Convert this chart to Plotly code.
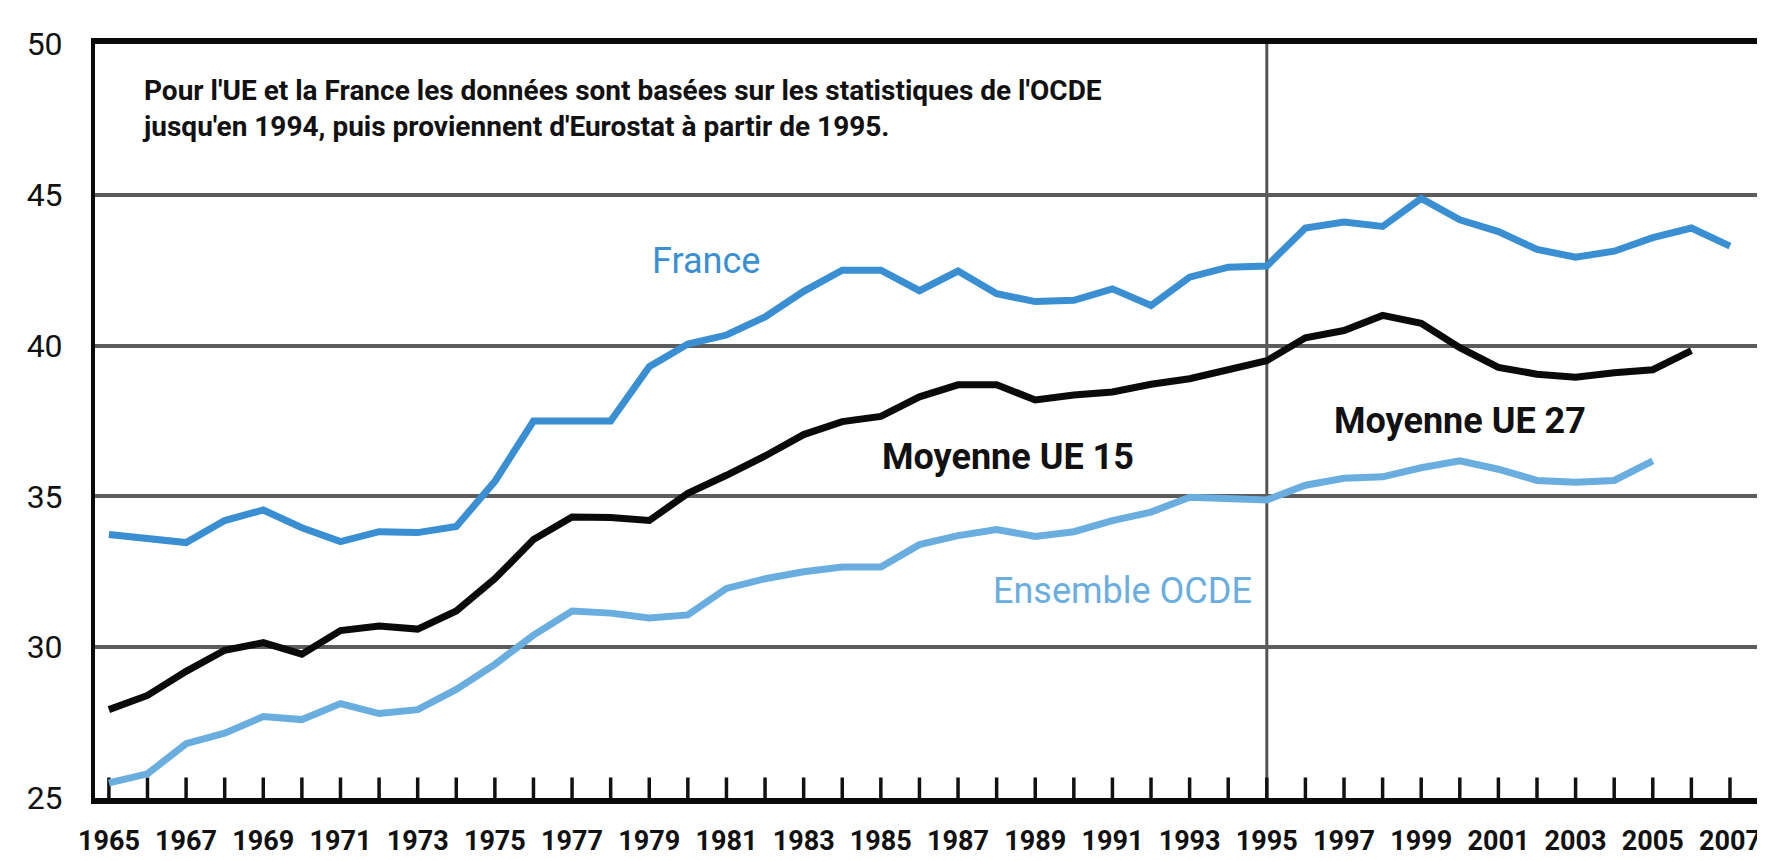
import plotly.graph_objects as go

# recettes fiscales en % du PIB
years = list(range(1965, 2008))

france = [33.74, 33.6, 33.47, 34.2, 34.55, 33.96, 33.5, 33.83, 33.8, 34.0,
          35.5, 37.5, 37.5, 37.5, 39.3, 40.05, 40.35, 40.95, 41.8, 42.5,
          42.5, 41.82, 42.47, 41.72, 41.46, 41.5, 41.88, 41.33, 42.27, 42.6,
          42.64, 43.9, 44.1, 43.95, 44.88, 44.17, 43.78, 43.19, 42.93, 43.13,
          43.58, 43.9, 43.3]

# UE 15 jusqu'en 1995, UE 27 ensuite (1965-2006)
moyenne_ue = [27.93, 28.4, 29.2, 29.9, 30.15, 29.77, 30.55, 30.7, 30.6, 31.2,
              32.27, 33.57, 34.32, 34.3, 34.2, 35.1, 35.7, 36.34, 37.05, 37.48,
              37.65, 38.3, 38.7, 38.7, 38.2, 38.36, 38.46, 38.72, 38.9, 39.18,
              39.5, 40.26, 40.5, 41.0, 40.74, 39.93, 39.28, 39.05, 38.95, 39.1,
              39.2, 39.83]

# ensemble OCDE (1965-2005)
ocde = [25.5, 25.8, 26.8, 27.15, 27.7, 27.6, 28.13, 27.8, 27.93, 28.6,
        29.43, 30.4, 31.2, 31.13, 30.97, 31.07, 31.95, 32.27, 32.5, 32.66,
        32.66, 33.4, 33.7, 33.9, 33.67, 33.83, 34.2, 34.48, 34.97, 34.94,
        34.88, 35.37, 35.6, 35.65, 35.95, 36.18, 35.9, 35.53, 35.47, 35.53,
        36.18]

source_break = 1995
y_ticks = [25, 30, 35, 40, 45, 50]
x_labels = [str(y) if y % 2 == 1 else "" for y in years]

note = ("Pour l'UE et la France les données sont basées sur les statistiques de l'OCDE<br>"
        "jusqu'en 1994, puis proviennent d'Eurostat à partir de 1995.")

FONT = "Roboto, Liberation Sans, sans-serif"
BLUE = "#3a8fd2"
LIGHT = "#6aaee0"
INK = "#111111"
X_RANGE = [1964.64, 2007.7]
Y_RANGE = [y_ticks[0], y_ticks[-1]]
TICK_LEN = 0.68  # en unités de l'axe y

fig = go.Figure()

# graduations annuelles tournées vers l'intérieur, posées sur l'axe du bas
tick_x, tick_y = [], []
for yr in years:
    tick_x += [yr, yr, None]
    tick_y += [Y_RANGE[0], Y_RANGE[0] + TICK_LEN, None]
fig.add_trace(go.Scatter(x=tick_x, y=tick_y, mode="lines", hoverinfo="skip",
                         line=dict(color=INK, width=3.5), name="ticks"))

fig.add_trace(go.Scatter(x=years[:len(ocde)], y=ocde, mode="lines",
                         line=dict(color=LIGHT, width=7), name="Ensemble OCDE"))
fig.add_trace(go.Scatter(x=years[:len(moyenne_ue)], y=moyenne_ue, mode="lines",
                         line=dict(color="#0a0a0a", width=7), name="Moyenne UE"))
fig.add_trace(go.Scatter(x=years, y=france, mode="lines",
                         line=dict(color=BLUE, width=7), name="France"))

# ligne verticale de changement de source
fig.add_shape(type="line", xref="x", yref="paper", x0=source_break, x1=source_break,
              y0=0, y1=1, line=dict(color="#555555", width=3), layer="below")

labels = [
    ("France", 1980.47, 42.8, BLUE, False),
    ("Moyenne UE 15", 1988.3, 36.3, INK, True),
    ("Moyenne UE 27", 2000.0, 37.5, INK, True),
    ("Ensemble OCDE", 1991.25, 31.85, LIGHT, False),
]
for txt, x, y, col, bold in labels:
    fig.add_annotation(x=x, y=y, text=f"<b>{txt}</b>" if bold else txt, showarrow=False,
                       font=dict(family=FONT, size=36, color=col))

fig.add_annotation(x=1965.8, y=47.85, xanchor="left", yanchor="middle", align="left",
                   text=f"<b>{note}</b>", showarrow=False,
                   font=dict(family=FONT, size=28, color=INK))

fig.update_xaxes(range=X_RANGE, tickvals=years, ticktext=x_labels,
                 ticks="", ticklabelstandoff=14,
                 showgrid=False, showline=True, linecolor="#0a0a0a", linewidth=6,
                 mirror=True, zeroline=False,
                 tickfont=dict(family=FONT, size=27, color=INK, weight="bold"))
fig.update_yaxes(range=Y_RANGE, tickvals=y_ticks, ticks="", ticklabelstandoff=22,
                 showgrid=True, gridcolor="#5c5c5c", gridwidth=4,
                 showline=True, linecolor="#0a0a0a", linewidth=4, mirror=True,
                 zeroline=False,
                 tickfont=dict(family=FONT, size=32, color=INK))

fig.update_layout(width=1765, height=861, plot_bgcolor="white", paper_bgcolor="white",
                  margin=dict(l=87, r=16, t=36, b=58), showlegend=False,
                  font=dict(family=FONT))

fig.write_html("out.html")
